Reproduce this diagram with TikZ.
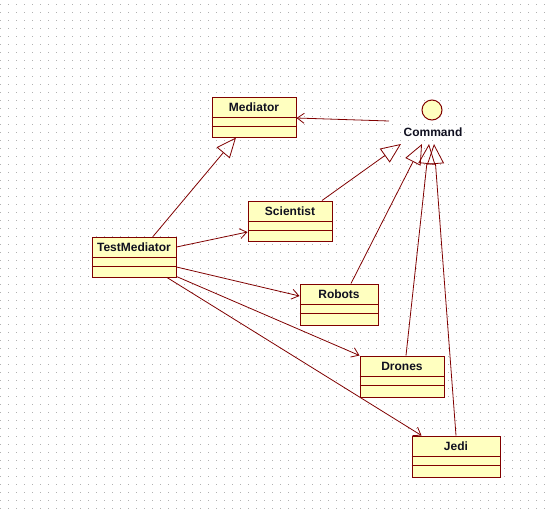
\documentclass[tikz,border=0pt]{standalone}
\usepackage{fontspec}
\setmainfont{Liberation Sans}
\usetikzlibrary{arrows.meta}

\definecolor{umlborder}{HTML}{800000}
\definecolor{umlfill}{HTML}{FFFFC0}
\definecolor{griddot}{HTML}{B0B0B0}
\definecolor{umltext}{HTML}{101020}

\tikzset{
  cls/.style={draw=umlborder, fill=umlfill, line width=1pt, inner sep=0pt,
              minimum height=40pt},
  clsname/.style={font=\fontsize{12}{13}\selectfont\bfseries, text=umltext,
                  inner sep=0pt},
  divider/.style={draw=umlborder, line width=1pt},
  assoc/.style={draw=umlborder, line width=0.8pt,
                -{Straight Barb[length=7pt,width=10pt,line width=0.8pt]}},
  realize/.style={draw=umlborder, line width=0.8pt,
                  -{Triangle[open,length=20pt,width=17pt,line width=0.8pt]}},
}

% class box: name, centre x, centre y, width, height, title
\newcommand\classbox[6]{%
  \node[cls, minimum width=#4pt, minimum height=#5pt] (#1) at (#2,#3) {};
  \node[clsname] at ([yshift=-11pt]#1.north) {#6};
  \draw[divider] ([yshift=-21pt]#1.north west) -- ([yshift=-21pt]#1.north east);
  \draw[divider] ([yshift=-30pt]#1.north west) -- ([yshift=-30pt]#1.north east);
}

\begin{document}
\begin{tikzpicture}[x=1pt, y=-1pt]
  \useasboundingbox (0,0) rectangle (547,523);
  \fill[white] (0,0) rectangle (547,523);

  % dotted drawing grid
  \foreach \i in {0,...,68}{
    \foreach \j in {0,...,63}{
      \fill[griddot] (0.5+8*\i-0.5, 4+8*\j-0.5) rectangle ++(1,1);
    }
  }

  % classes
  \classbox{med}{254}{117}{84}{40}{Mediator}
  \classbox{sci}{290}{221}{84}{40}{Scientist}
  \classbox{tm}{134}{257}{84}{40}{TestMediator}
  \classbox{rob}{339}{304.5}{78}{41}{Robots}
  \classbox{dro}{402}{376.5}{84}{41}{Drones}
  \classbox{jedi}{456}{456.5}{88}{41}{Jedi}

  % interface (lollipop)
  \node[circle, draw=umlborder, fill=umlfill, line width=1pt, minimum size=20pt,
        inner sep=0pt] (cmd) at (432,110) {};
  \node[clsname] (cmdlbl) at (433,132) {Command};

  % generalization / realization
  \draw[realize] ([xshift=19pt]tm.north) -- ([xshift=-18pt]med.south);
  \draw[realize] ([xshift=32pt]sci.north) -- ([xshift=-31pt,yshift=-34pt]cmd.center);
  \draw[realize] ([xshift=12pt]rob.north) -- ([xshift=-10pt,yshift=-34pt]cmd.center);
  \draw[realize] ([xshift=4pt]dro.north) -- ([xshift=-3pt,yshift=-34pt]cmd.center);
  \draw[realize] (jedi.north) -- ([xshift=2pt,yshift=-34pt]cmd.center);

  % associations
  \draw[assoc] ([xshift=-43pt,yshift=-11pt]cmd.center) -- ([yshift=-1pt]med.east);
  \draw[assoc] ([yshift=10pt]tm.east) -- ([yshift=-11pt]sci.west);
  \draw[assoc] ([yshift=-10pt]tm.east) -- ([yshift=8.5pt]rob.west);
  \draw[assoc] ([yshift=1pt]tm.south east) -- (dro.north west);
  \draw[assoc] ([xshift=33pt]tm.south) -- ([xshift=10pt]jedi.north west);
\end{tikzpicture}
\end{document}
